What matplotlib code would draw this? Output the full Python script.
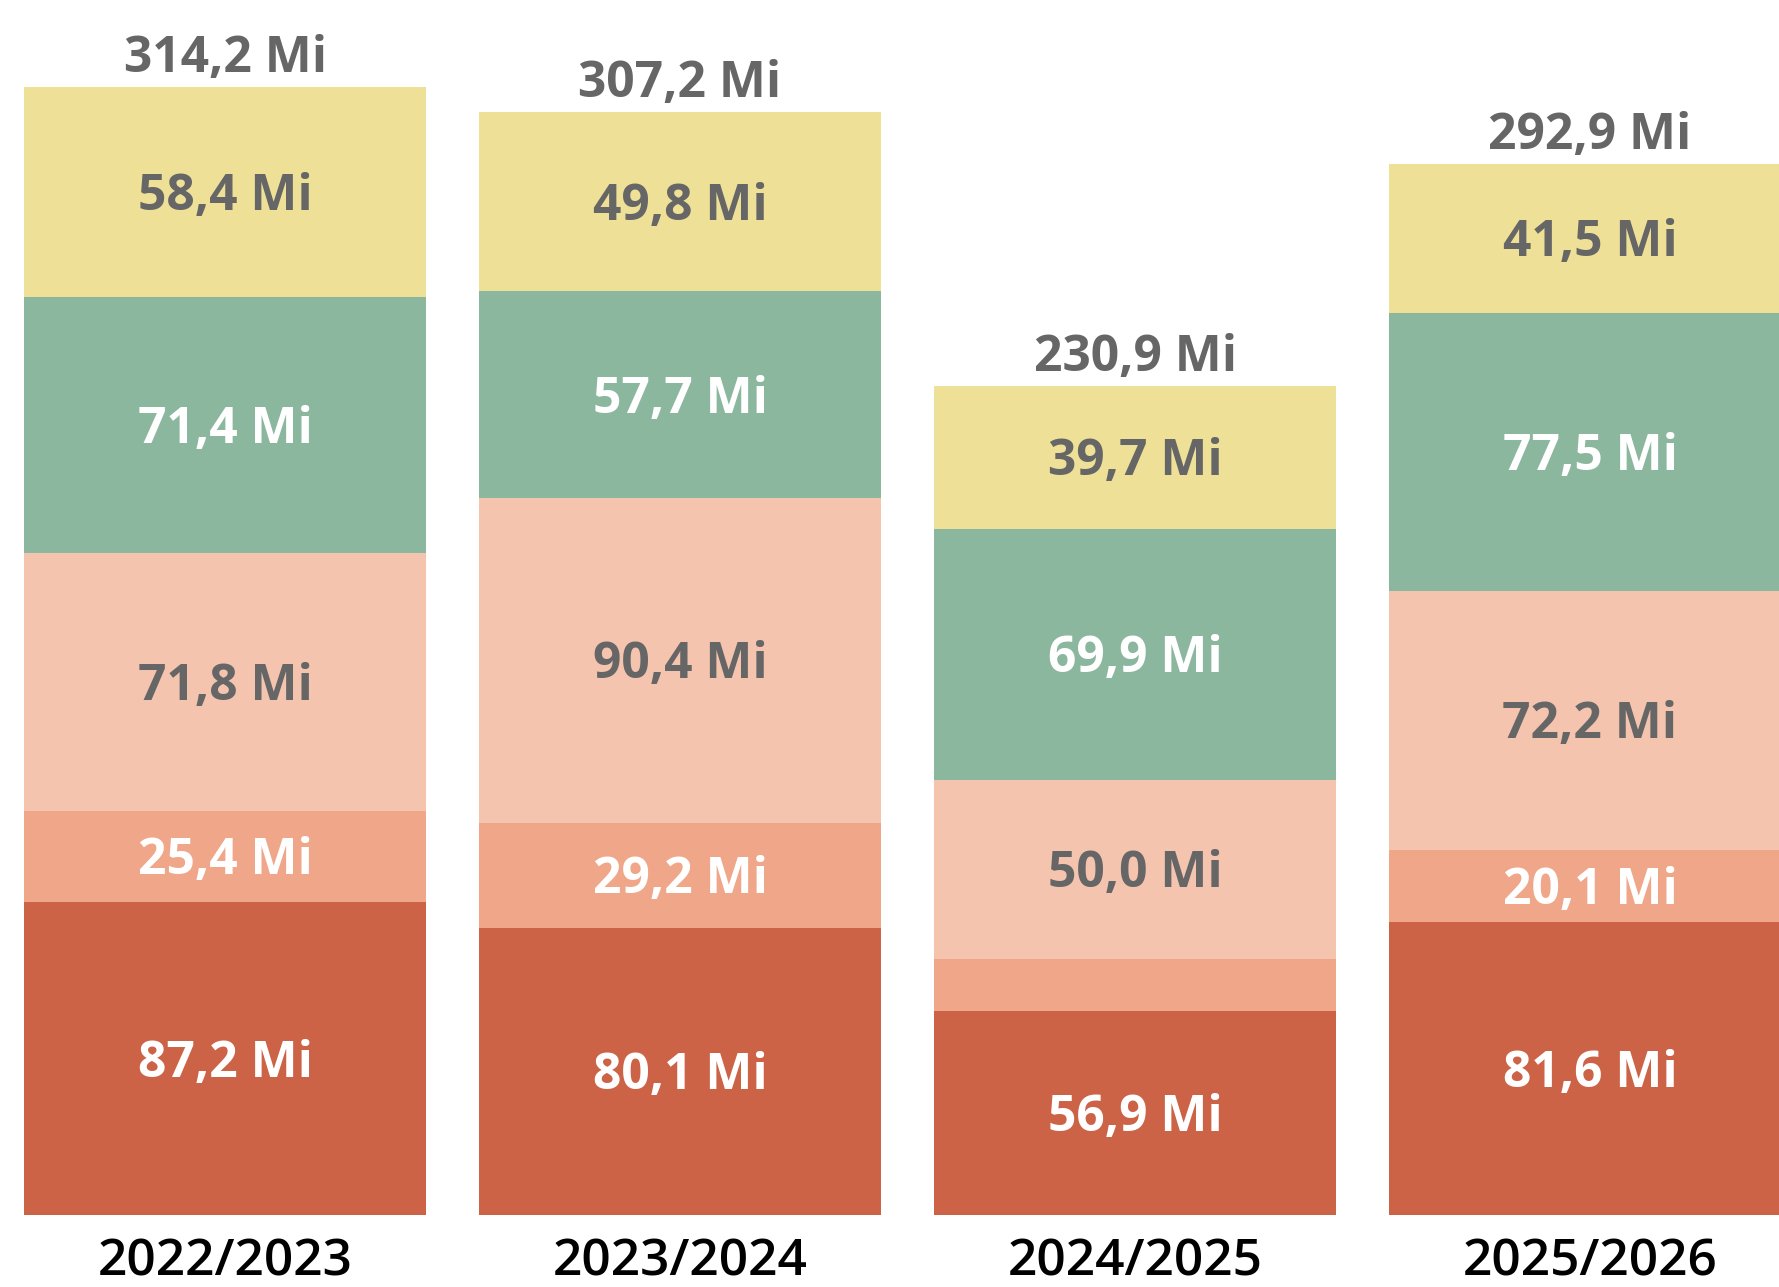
import matplotlib
matplotlib.use("Agg")
import matplotlib.pyplot as plt
import numpy as np
from matplotlib import font_manager

categories = ["2022/2023", "2023/2024", "2024/2025", "2025/2026"]
seg1 = [87.2, 80.1, 56.9, 81.6]   # dark red (bottom)
seg2 = [25.4, 29.2, 14.4, 20.1]   # salmon
seg3 = [71.8, 90.4, 50.0, 72.2]   # light salmon
seg4 = [71.4, 57.7, 69.9, 77.5]   # green
seg5 = [58.4, 49.8, 39.7, 41.5]   # yellow (top)
totals = [314.2, 307.2, 230.9, 292.9]

series = [seg1, seg2, seg3, seg4, seg5]
colors = ["#CD6346", "#EFA689", "#F4C4AF", "#8CB79F", "#EFE098"]
label_colors = ["white", "white", "#666666", "white", "#666666"]

fig = plt.figure(figsize=(17.79, 12.87), dpi=100)
ax = fig.add_axes([0, 1 - 1215.3 / 1287, 1, 1215.3 / 1287])

x = np.arange(len(categories))
width = 0.8835
bottom = np.zeros(len(categories))
fs = 35.8
cap = 0.714 * fs
for vals, col, lc in zip(series, colors, label_colors):
    vals = np.array(vals)
    ax.bar(x, vals, width, bottom=bottom, color=col, linewidth=0)
    for xi, b, v in zip(x, bottom, vals):
        if v >= 15:
            ax.annotate(f"{v:.1f} Mi".replace(".", ","), (xi, b + v / 2),
                        xytext=(0, -cap / 2), textcoords="offset points",
                        ha="center", va="baseline", fontsize=fs,
                        fontweight="bold", family="Open Sans", color=lc)
    bottom = bottom + vals

for xi, t in zip(x, totals):
    ax.annotate(f"{t:.1f} Mi".replace(".", ","), (xi, t),
                xytext=(0, 11), textcoords="offset points",
                ha="center", va="baseline", fontsize=fs,
                fontweight="bold", family="Open Sans", color="#666666")

ax.set_xlim(-225 / 455, 1554 / 455)
ax.set_ylim(0, 1215.3 / 3.59)
ax.set_xticks(x)
ax.set_xticklabels(categories, fontsize=37, family="Open Sans",
                   fontweight="semibold", color="black")
ax.tick_params(axis="x", length=0, pad=16)
ax.set_yticks([])
for s in ax.spines.values():
    s.set_visible(False)

fig.savefig("out.png", dpi=100)
